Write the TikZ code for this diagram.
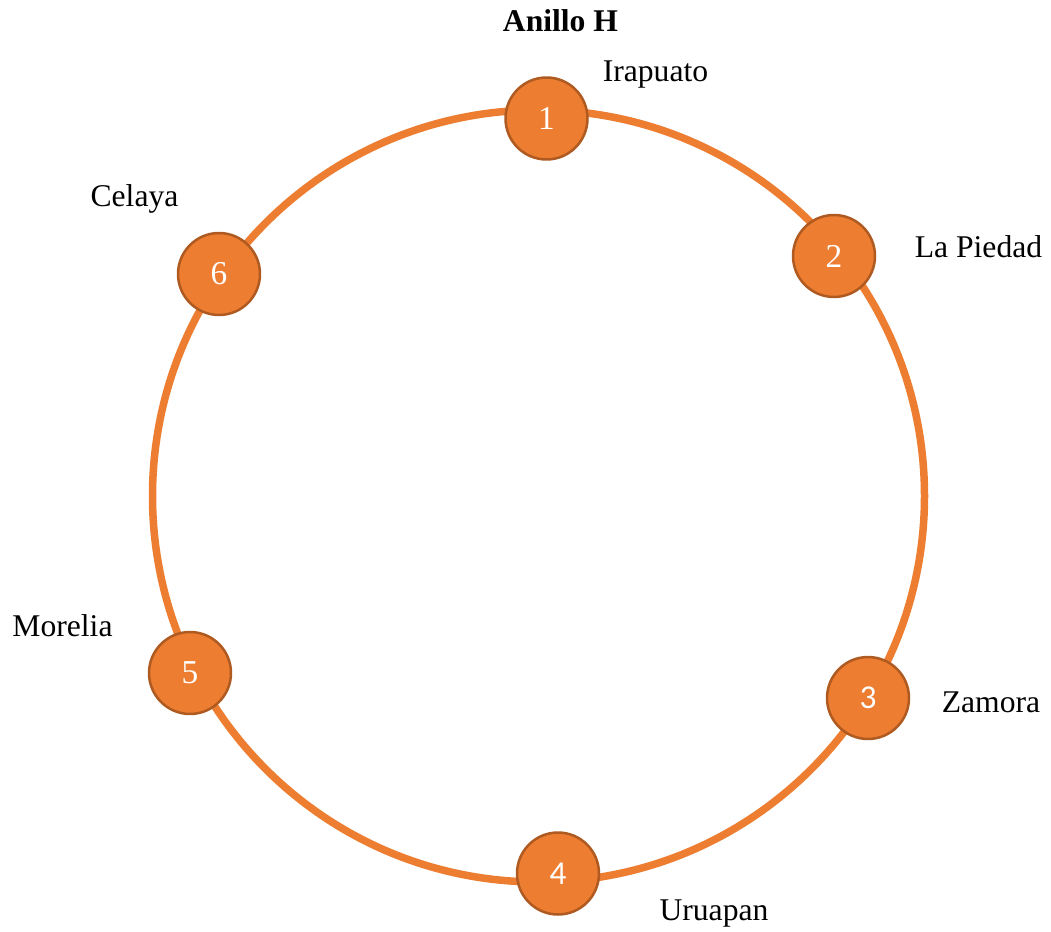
\documentclass[tikz,border=0pt]{standalone}
\usepackage{fontspec}
\setmainfont{Liberation Serif}
\newfontfamily\carlito{Carlito}
\usepackage{xcolor}
\usepackage{tikz}
\usetikzlibrary{positioning}
\definecolor{naranja}{HTML}{ED7D31}
\definecolor{borde}{HTML}{AE5A21}

\begin{document}
\begin{tikzpicture}[x=0.02cm, y=-0.02cm,
    nodo/.style={circle, fill=naranja, draw=borde, line width=0.05cm,
        minimum size=1.64cm, inner sep=0pt, text=white, font=\fontsize{19}{22}\selectfont},
    ciudad/.style={anchor=base, font=\fontsize{18}{22}\selectfont}]
    \useasboundingbox (0,0) rectangle (1051,932);
    % Anillo
    \draw[naranja, line width=0.15cm] (538.5,496) circle (386);
    
    % Nodos del anillo
    \node[nodo] (n1) at (546.5,118.5) {1};
    \node[nodo] (n2) at (834,256) {2};
    \node[nodo] (n3) at (868,698) {\carlito 3};
    \node[nodo] (n4) at (558,873.5) {\carlito 4};
    \node[nodo] (n5) at (190,673) {5};
    \node[nodo] (n6) at (219,274) {6};
    
    % Nombres de las ciudades
    \node[ciudad, font=\fontsize{18}{22}\selectfont\bfseries] (titulo) at (560.5,32) {Anillo H};
    \node[ciudad] (irapuato) at (655.5,82) {Irapuato};
    \node[ciudad] (piedad) at (978.5,258) {La Piedad};
    \node[ciudad] (zamora) at (991,712) {Zamora};
    \node[ciudad] (uruapan) at (714,920) {Uruapan};
    \node[ciudad] (morelia) at (62.5,636) {Morelia};
    \node[ciudad] (celaya) at (134.5,207) {Celaya};
\end{tikzpicture}
\end{document}
